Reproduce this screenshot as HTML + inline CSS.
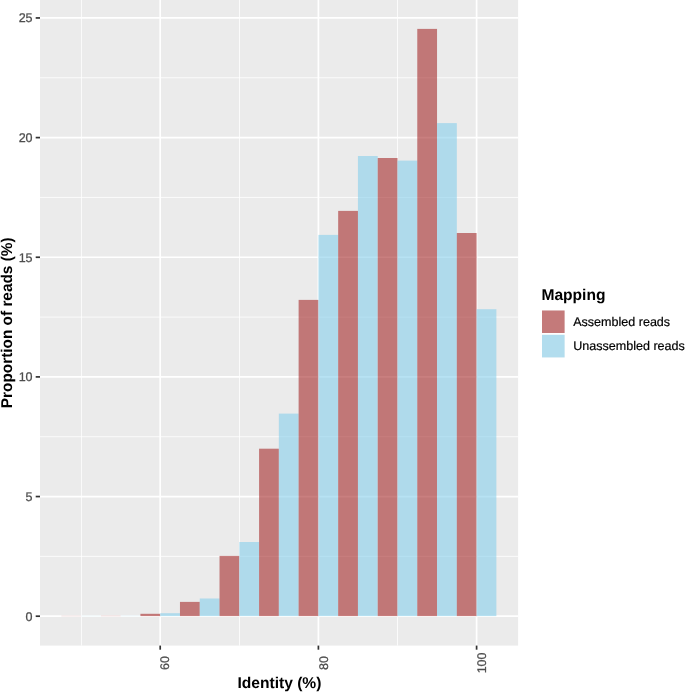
<!DOCTYPE html>
<html lang="en"><head><meta charset="utf-8"><title>Identity histogram</title>
<style>html,body{margin:0;padding:0;background:#fff}svg{display:block}text{font-family:"Liberation Sans",Arial,Helvetica,sans-serif;text-rendering:geometricPrecision}.t{font-size:12.55px;fill:#4D4D4D;stroke:#4D4D4D;stroke-width:0.25px}.b{font-size:15.6px;font-weight:bold;fill:#000}.l{font-size:12.55px;fill:#000;stroke:#000;stroke-width:0.2px}</style></head><body>
<svg width="685" height="692" viewBox="0 0 685 692">
<rect x="0" y="0" width="685" height="692" fill="#fff"/>
<rect x="40.00" y="0.00" width="478.10" height="645.60" fill="#EBEBEB"/>
<line x1="40.00" x2="518.10" y1="556.38" y2="556.38" stroke="#fff" stroke-width="0.8"/>
<line x1="40.00" x2="518.10" y1="436.73" y2="436.73" stroke="#fff" stroke-width="0.8"/>
<line x1="40.00" x2="518.10" y1="317.08" y2="317.08" stroke="#fff" stroke-width="0.8"/>
<line x1="40.00" x2="518.10" y1="197.43" y2="197.43" stroke="#fff" stroke-width="0.8"/>
<line x1="40.00" x2="518.10" y1="77.78" y2="77.78" stroke="#fff" stroke-width="0.8"/>
<line x1="81.45" x2="81.45" y1="0.00" y2="645.60" stroke="#fff" stroke-width="0.8"/>
<line x1="239.50" x2="239.50" y1="0.00" y2="645.60" stroke="#fff" stroke-width="0.8"/>
<line x1="397.50" x2="397.50" y1="0.00" y2="645.60" stroke="#fff" stroke-width="0.8"/>
<line x1="40.00" x2="518.10" y1="616.20" y2="616.20" stroke="#fff" stroke-width="1.7"/>
<line x1="40.00" x2="518.10" y1="496.55" y2="496.55" stroke="#fff" stroke-width="1.7"/>
<line x1="40.00" x2="518.10" y1="376.90" y2="376.90" stroke="#fff" stroke-width="1.7"/>
<line x1="40.00" x2="518.10" y1="257.25" y2="257.25" stroke="#fff" stroke-width="1.7"/>
<line x1="40.00" x2="518.10" y1="137.60" y2="137.60" stroke="#fff" stroke-width="1.7"/>
<line x1="40.00" x2="518.10" y1="17.95" y2="17.95" stroke="#fff" stroke-width="1.7"/>
<line x1="160.20" x2="160.20" y1="0.00" y2="645.60" stroke="#fff" stroke-width="1.7"/>
<line x1="318.40" x2="318.40" y1="0.00" y2="645.60" stroke="#fff" stroke-width="1.7"/>
<line x1="476.60" x2="476.60" y1="0.00" y2="645.60" stroke="#fff" stroke-width="1.7"/>
<rect x="61.32" y="615.90" width="19.77" height="0.20" fill="#A52A2A" fill-opacity="0.6"/>
<rect x="81.10" y="615.90" width="19.77" height="0.20" fill="#87CEEB" fill-opacity="0.6"/>
<rect x="100.87" y="615.85" width="19.77" height="0.25" fill="#A52A2A" fill-opacity="0.6"/>
<rect x="120.65" y="615.85" width="19.77" height="0.25" fill="#87CEEB" fill-opacity="0.6"/>
<rect x="140.42" y="613.80" width="19.77" height="2.30" fill="#A52A2A" fill-opacity="0.6"/>
<rect x="160.20" y="613.20" width="19.77" height="2.90" fill="#87CEEB" fill-opacity="0.6"/>
<rect x="179.97" y="601.90" width="19.77" height="14.20" fill="#A52A2A" fill-opacity="0.6"/>
<rect x="199.75" y="598.50" width="19.77" height="17.60" fill="#87CEEB" fill-opacity="0.6"/>
<rect x="219.52" y="555.90" width="19.77" height="60.20" fill="#A52A2A" fill-opacity="0.6"/>
<rect x="239.30" y="542.00" width="19.77" height="74.10" fill="#87CEEB" fill-opacity="0.6"/>
<rect x="259.07" y="448.70" width="19.77" height="167.40" fill="#A52A2A" fill-opacity="0.6"/>
<rect x="278.85" y="413.60" width="19.77" height="202.50" fill="#87CEEB" fill-opacity="0.6"/>
<rect x="298.62" y="299.90" width="19.77" height="316.20" fill="#A52A2A" fill-opacity="0.6"/>
<rect x="318.40" y="234.90" width="19.77" height="381.20" fill="#87CEEB" fill-opacity="0.6"/>
<rect x="338.17" y="210.90" width="19.77" height="405.20" fill="#A52A2A" fill-opacity="0.6"/>
<rect x="357.95" y="156.00" width="19.77" height="460.10" fill="#87CEEB" fill-opacity="0.6"/>
<rect x="377.73" y="158.00" width="19.77" height="458.10" fill="#A52A2A" fill-opacity="0.6"/>
<rect x="397.50" y="160.60" width="19.77" height="455.50" fill="#87CEEB" fill-opacity="0.6"/>
<rect x="417.27" y="28.90" width="19.77" height="587.20" fill="#A52A2A" fill-opacity="0.6"/>
<rect x="437.05" y="123.10" width="19.77" height="493.00" fill="#87CEEB" fill-opacity="0.6"/>
<rect x="456.82" y="233.00" width="19.77" height="383.10" fill="#A52A2A" fill-opacity="0.6"/>
<rect x="476.60" y="309.20" width="19.77" height="306.90" fill="#87CEEB" fill-opacity="0.6"/>
<line x1="35.70" x2="40.00" y1="616.20" y2="616.20" stroke="#333" stroke-width="1.7"/>
<text class="t" x="32.6" y="621" text-anchor="end">0</text>
<line x1="35.70" x2="40.00" y1="496.55" y2="496.55" stroke="#333" stroke-width="1.7"/>
<text class="t" x="32.6" y="501" text-anchor="end">5</text>
<line x1="35.70" x2="40.00" y1="376.90" y2="376.90" stroke="#333" stroke-width="1.7"/>
<text class="t" x="32.6" y="381" text-anchor="end">10</text>
<line x1="35.70" x2="40.00" y1="257.25" y2="257.25" stroke="#333" stroke-width="1.7"/>
<text class="t" x="32.6" y="262" text-anchor="end">15</text>
<line x1="35.70" x2="40.00" y1="137.60" y2="137.60" stroke="#333" stroke-width="1.7"/>
<text class="t" x="32.6" y="142" text-anchor="end">20</text>
<line x1="35.70" x2="40.00" y1="17.95" y2="17.95" stroke="#333" stroke-width="1.7"/>
<text class="t" x="32.6" y="22" text-anchor="end">25</text>
<line x1="160.20" x2="160.20" y1="645.60" y2="649.70" stroke="#333" stroke-width="1.7"/>
<text class="t" transform="translate(169.40,662.9) rotate(-90)" text-anchor="middle">60</text>
<line x1="318.40" x2="318.40" y1="645.60" y2="649.70" stroke="#333" stroke-width="1.7"/>
<text class="t" transform="translate(327.60,662.9) rotate(-90)" text-anchor="middle">80</text>
<line x1="476.60" x2="476.60" y1="645.60" y2="649.70" stroke="#333" stroke-width="1.7"/>
<text class="t" transform="translate(485.80,662.9) rotate(-90)" text-anchor="middle">100</text>
<text class="b" transform="translate(279.4,688) scale(1.0,1)" text-anchor="middle">Identity (%)</text>
<text class="b" transform="translate(11.5,322.8) rotate(-90) scale(0.985,1)" text-anchor="middle">Proportion of reads (%)</text>
<text class="b" transform="translate(541.4,300) scale(1.0,1)">Mapping</text>
<rect x="541.15" y="309.65" width="24.30" height="24.30" fill="#F2F2F2" stroke="#fff" stroke-width="1.7"/>
<rect x="542.00" y="310.50" width="22.60" height="22.60" fill="#A52A2A" fill-opacity="0.6"/>
<text class="l" x="573.2" y="326.15">Assembled reads</text>
<rect x="541.15" y="333.95" width="24.30" height="24.30" fill="#F2F2F2" stroke="#fff" stroke-width="1.7"/>
<rect x="542.00" y="334.80" width="22.60" height="22.60" fill="#87CEEB" fill-opacity="0.6"/>
<text class="l" x="573.2" y="350.45">Unassembled reads</text>
</svg></body></html>
